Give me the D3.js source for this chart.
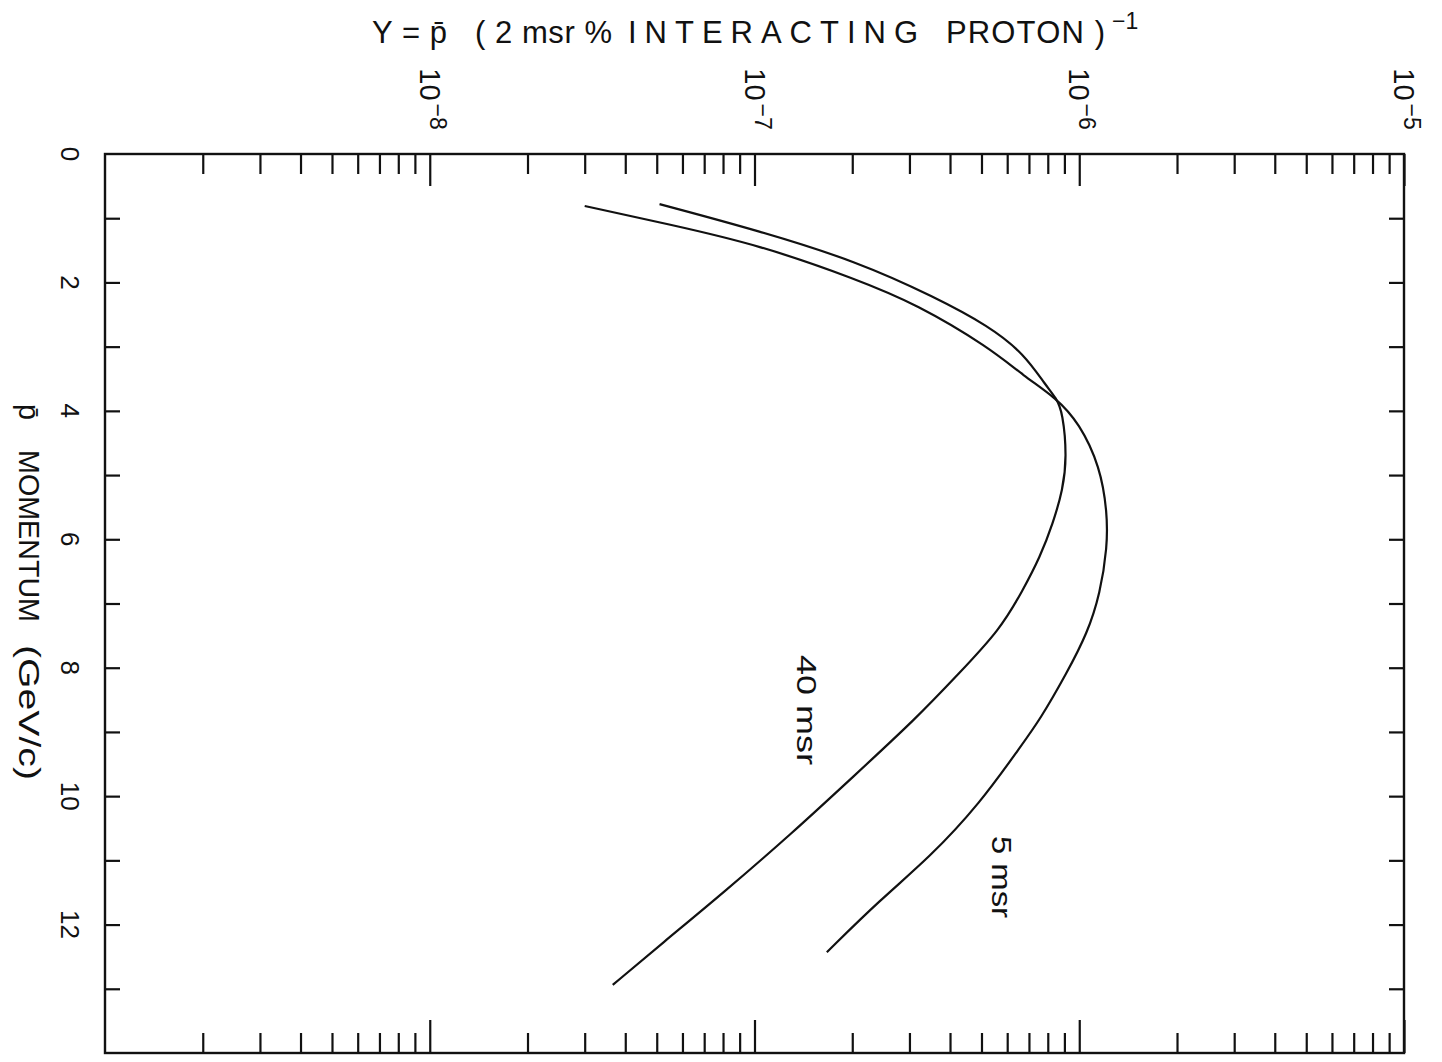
<!DOCTYPE html>
<html>
<head>
<meta charset="utf-8">
<script src="https://cdn.jsdelivr.net/npm/d3@7"></script>
<style>
  body { margin: 0; background: #fff; }
  text { font-family: "Liberation Sans", Arial, sans-serif; fill: #111; }
</style>
</head>
<body>
<div class="chart"></div>
<script>
const margin = ({top: 154, right: 38, bottom: 9, left: 105})
const width = 1442 - margin.left - margin.right
const height = 1062 - margin.top - margin.bottom

// tick values
const momentumTicks = [0, 2, 4, 6, 8, 10, 12]
const momentumMinor = [1, 2, 3, 4, 5, 6, 7, 8, 9, 10, 11, 12, 13]
const decades = [1e-8, 1e-7, 1e-6, 1e-5]
const decadeExp = ["\u22128", "\u22127", "\u22126", "\u22125"]

// 5 msr curve (momentum GeV/c, yield)
const p5 = [0.81, 1.09, 1.42, 1.95, 2.34, 3.01, 3.46, 3.80, 4.19, 4.87, 5.59, 6.12, 6.84, 7.46, 8.08, 8.81, 9.24, 10.11, 10.95, 11.62, 12.43]
const y5 = [3.0e-8, 5.4e-8, 1.04e-7, 2.06e-7, 3.16e-7, 5.27e-7, 6.76e-7, 8.5e-7, 1.0e-6, 1.16e-6, 1.22e-6, 1.22e-6, 1.16e-6, 1.06e-6, 9.16e-7, 7.57e-7, 6.57e-7, 4.95e-7, 3.47e-7, 2.43e-7, 1.67e-7]

// 40 msr curve
const p40 = [0.78, 1.20, 1.67, 2.23, 2.68, 3.11, 3.61, 3.80, 4.03, 4.72, 5.23, 5.75, 6.28, 6.79, 7.41, 8.10, 8.78, 9.70, 10.57, 11.51, 12.29, 12.94]
const y40 = [5.1e-8, 1.04e-7, 2.06e-7, 3.6e-7, 5.27e-7, 6.76e-7, 7.9e-7, 8.5e-7, 8.9e-7, 9.16e-7, 8.9e-7, 8.3e-7, 7.57e-7, 6.71e-7, 5.7e-7, 4.24e-7, 3.16e-7, 2.01e-7, 1.31e-7, 8.0e-8, 5.2e-8, 3.66e-8]

const curveNames = ["40 msr", "5 msr"]

const svg = d3.select('.chart').append('svg')
    .attr("width", width + margin.left + margin.right)
    .attr("height", height + margin.top + margin.bottom)

const g = svg.append("g")
    .attr("transform", `translate(${margin.left},${margin.top})`)

// SCALES (yield runs across, momentum runs down)
const xScale = d3.scaleLog()
    .domain([1e-9, 1e-5])
    .range([0, width])

const yScale = d3.scaleLinear()
    .domain([0, 14])
    .range([0, height])

const minorLog = d3.range(-9, -5).flatMap(e => d3.range(2, 10).map(k => k * Math.pow(10, e)))

// AXES
const styleAxis = sel => {
    sel.select(".domain").remove()
    sel.selectAll(".tick line").attr("stroke", "#111").attr("stroke-width", 2.2)
}

g.append("g").call(d3.axisBottom(xScale).tickValues(minorLog).tickSize(20).tickFormat("")).call(styleAxis)
g.append("g").call(d3.axisBottom(xScale).tickValues(decades).tickSize(32).tickFormat("")).call(styleAxis)
g.append("g").attr("transform", `translate(0,${height})`)
    .call(d3.axisTop(xScale).tickValues(minorLog).tickSize(20).tickFormat("")).call(styleAxis)
g.append("g").attr("transform", `translate(0,${height})`)
    .call(d3.axisTop(xScale).tickValues(decades).tickSize(33).tickFormat("")).call(styleAxis)
g.append("g").call(d3.axisRight(yScale).tickValues(momentumMinor).tickSize(15).tickFormat("")).call(styleAxis)
g.append("g").attr("transform", `translate(${width},0)`)
    .call(d3.axisLeft(yScale).tickValues(momentumMinor).tickSize(15).tickFormat("")).call(styleAxis)

// frame
g.append("rect")
    .attr("width", width).attr("height", height)
    .attr("fill", "none").attr("stroke", "#111").attr("stroke-width", 2.4)

// momentum tick labels
g.append("g").selectAll("text")
    .data(momentumTicks)
    .join("text")
    .attr("transform", d => `translate(-35,${yScale(d)}) rotate(90)`)
    .attr("text-anchor", "middle")
    .attr("dominant-baseline", "central")
    .attr("font-size", 26)
    .text(d => d)

// decade labels
const dl = g.append("g").selectAll("text")
    .data(decades)
    .join("text")
    .attr("transform", d => `translate(${xScale(d)},${99 - margin.top}) rotate(90)`)
    .attr("text-anchor", "middle")
    .attr("dominant-baseline", "central")
    .attr("font-size", 29)
dl.append("tspan").text("10")
dl.append("tspan").attr("dx", 3).attr("dy", -8).attr("font-size", 23).text((d, i) => decadeExp[i])

// CURVES
const line = d3.line()
    .x(d => xScale(d[1]))
    .y(d => yScale(d[0]))
    .curve(d3.curveBasis)

const series = [d3.zip(p40, y40), d3.zip(p5, y5)]

g.append("g").selectAll("path")
    .data(series)
    .join("path")
    .attr("d", line)
    .attr("fill", "none")
    .attr("stroke", "#111")
    .attr("stroke-width", 2.2)

// curve labels
const labelPos = [{x: 806, y: 655, len: 110}, {x: 1001, y: 836, len: 82}]
g.append("g").selectAll("text")
    .data(curveNames)
    .join("text")
    .attr("transform", (d, i) => `translate(${labelPos[i].x - margin.left},${labelPos[i].y - margin.top}) rotate(90)`)
    .attr("dominant-baseline", "central")
    .attr("font-size", 28)
    .attr("textLength", (d, i) => labelPos[i].len)
    .attr("lengthAdjust", "spacingAndGlyphs")
    .text(d => d)

// axis title (rotated)
const xt = [
    {t: "p\u0304", y: 404, len: 16},
    {t: "MOMENTUM", y: 450, len: 172},
    {t: "(GeV/c)", y: 645, len: 135}
]
svg.append("g").selectAll("text")
    .data(xt)
    .join("text")
    .attr("transform", d => `translate(29,${d.y}) rotate(90)`)
    .attr("dominant-baseline", "central")
    .attr("font-size", 30)
    .attr("textLength", d => d.len)
    .attr("lengthAdjust", "spacingAndGlyphs")
    .text(d => d.t)

// title
const tt = [
    {t: "Y = p\u0304", x: 372, len: 75},
    {t: "( 2 msr %", x: 475, len: 137},
    {t: "INTERACTING", x: 628, len: 290},
    {t: "PROTON )", x: 946, len: 159}
]
const title = svg.append("g")
title.selectAll("text")
    .data(tt)
    .join("text")
    .attr("x", d => d.x)
    .attr("y", 43)
    .attr("font-size", 31)
    .attr("textLength", d => d.len)
    .attr("lengthAdjust", "spacing")
    .text(d => d.t)
title.append("text")
    .attr("x", 1112).attr("y", 29)
    .attr("font-size", 23)
    .text("\u22121")
</script>
</body>
</html>
